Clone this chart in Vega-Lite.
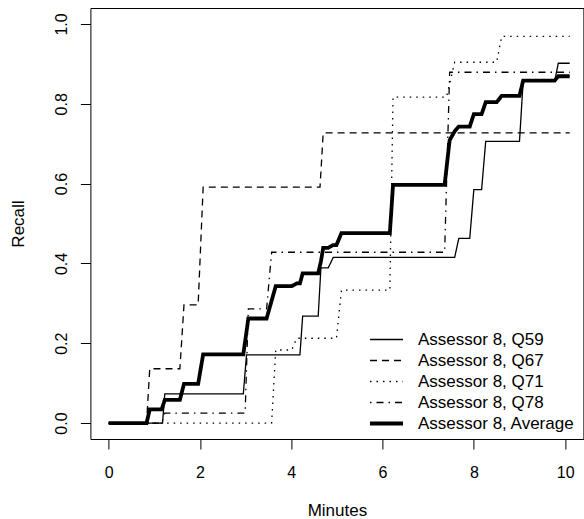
{
  "$schema": "https://vega.github.io/schema/vega-lite/v6.json",
  "width": 493,
  "height": 431,
  "autosize": {"type": "none"},
  "padding": {"left": 90.4, "top": 8, "right": 0.6, "bottom": 80},
  "background": "white",
  "config": {
    "font": "Liberation Sans",
    "view": {"stroke": "black", "strokeWidth": 1},
    "axis": {"domain": false, "grid": false, "tickColor": "black", "tickSize": 10, "tickWidth": 1, "labelColor": "black", "titleColor": "black", "labelFontSize": 16, "titleFontSize": 17, "titleFontWeight": "normal"}
  },
  "data": {"values": [
    {"series": "Assessor 8, Q59", "t": 0, "r": 0},
    {"series": "Assessor 8, Q59", "t": 1.18, "r": 0},
    {"series": "Assessor 8, Q59", "t": 1.23, "r": 0.073},
    {"series": "Assessor 8, Q59", "t": 2.95, "r": 0.073},
    {"series": "Assessor 8, Q59", "t": 3.02, "r": 0.171},
    {"series": "Assessor 8, Q59", "t": 4.19, "r": 0.171},
    {"series": "Assessor 8, Q59", "t": 4.25, "r": 0.268},
    {"series": "Assessor 8, Q59", "t": 4.59, "r": 0.268},
    {"series": "Assessor 8, Q59", "t": 4.65, "r": 0.389},
    {"series": "Assessor 8, Q59", "t": 4.81, "r": 0.389},
    {"series": "Assessor 8, Q59", "t": 4.92, "r": 0.415},
    {"series": "Assessor 8, Q59", "t": 7.58, "r": 0.415},
    {"series": "Assessor 8, Q59", "t": 7.67, "r": 0.4625},
    {"series": "Assessor 8, Q59", "t": 7.91, "r": 0.4625},
    {"series": "Assessor 8, Q59", "t": 8.0, "r": 0.585},
    {"series": "Assessor 8, Q59", "t": 8.17, "r": 0.585},
    {"series": "Assessor 8, Q59", "t": 8.26, "r": 0.706},
    {"series": "Assessor 8, Q59", "t": 9.0, "r": 0.706},
    {"series": "Assessor 8, Q59", "t": 9.08, "r": 0.856},
    {"series": "Assessor 8, Q59", "t": 9.77, "r": 0.856},
    {"series": "Assessor 8, Q59", "t": 9.85, "r": 0.9015},
    {"series": "Assessor 8, Q59", "t": 10.1, "r": 0.9015},

    {"series": "Assessor 8, Q67", "t": 0, "r": 0},
    {"series": "Assessor 8, Q67", "t": 0.83, "r": 0},
    {"series": "Assessor 8, Q67", "t": 0.9, "r": 0.136},
    {"series": "Assessor 8, Q67", "t": 1.56, "r": 0.136},
    {"series": "Assessor 8, Q67", "t": 1.65, "r": 0.296},
    {"series": "Assessor 8, Q67", "t": 1.96, "r": 0.296},
    {"series": "Assessor 8, Q67", "t": 2.07, "r": 0.591},
    {"series": "Assessor 8, Q67", "t": 4.63, "r": 0.591},
    {"series": "Assessor 8, Q67", "t": 4.7, "r": 0.727},
    {"series": "Assessor 8, Q67", "t": 10.1, "r": 0.727},

    {"series": "Assessor 8, Q71", "t": 0, "r": 0},
    {"series": "Assessor 8, Q71", "t": 3.57, "r": 0},
    {"series": "Assessor 8, Q71", "t": 3.66, "r": 0.183},
    {"series": "Assessor 8, Q71", "t": 4.01, "r": 0.183},
    {"series": "Assessor 8, Q71", "t": 4.12, "r": 0.2125},
    {"series": "Assessor 8, Q71", "t": 4.99, "r": 0.2125},
    {"series": "Assessor 8, Q71", "t": 5.1, "r": 0.333},
    {"series": "Assessor 8, Q71", "t": 6.16, "r": 0.333},
    {"series": "Assessor 8, Q71", "t": 6.23, "r": 0.8165},
    {"series": "Assessor 8, Q71", "t": 7.4, "r": 0.8165},
    {"series": "Assessor 8, Q71", "t": 7.58, "r": 0.904},
    {"series": "Assessor 8, Q71", "t": 8.5, "r": 0.904},
    {"series": "Assessor 8, Q71", "t": 8.61, "r": 0.969},
    {"series": "Assessor 8, Q71", "t": 10.1, "r": 0.969},

    {"series": "Assessor 8, Q78", "t": 0, "r": 0},
    {"series": "Assessor 8, Q78", "t": 1.16, "r": 0},
    {"series": "Assessor 8, Q78", "t": 1.23, "r": 0.025},
    {"series": "Assessor 8, Q78", "t": 2.99, "r": 0.025},
    {"series": "Assessor 8, Q78", "t": 3.06, "r": 0.286},
    {"series": "Assessor 8, Q78", "t": 3.46, "r": 0.286},
    {"series": "Assessor 8, Q78", "t": 3.57, "r": 0.428},
    {"series": "Assessor 8, Q78", "t": 7.36, "r": 0.428},
    {"series": "Assessor 8, Q78", "t": 7.47, "r": 0.879},
    {"series": "Assessor 8, Q78", "t": 10.1, "r": 0.879},

    {"series": "Assessor 8, Average", "t": 0, "r": 0},
    {"series": "Assessor 8, Average", "t": 0.83, "r": 0},
    {"series": "Assessor 8, Average", "t": 0.9, "r": 0.034},
    {"series": "Assessor 8, Average", "t": 1.16, "r": 0.034},
    {"series": "Assessor 8, Average", "t": 1.23, "r": 0.058},
    {"series": "Assessor 8, Average", "t": 1.56, "r": 0.058},
    {"series": "Assessor 8, Average", "t": 1.65, "r": 0.098},
    {"series": "Assessor 8, Average", "t": 1.96, "r": 0.098},
    {"series": "Assessor 8, Average", "t": 2.07, "r": 0.172},
    {"series": "Assessor 8, Average", "t": 2.95, "r": 0.172},
    {"series": "Assessor 8, Average", "t": 3.06, "r": 0.262},
    {"series": "Assessor 8, Average", "t": 3.46, "r": 0.262},
    {"series": "Assessor 8, Average", "t": 3.66, "r": 0.343},
    {"series": "Assessor 8, Average", "t": 4.01, "r": 0.343},
    {"series": "Assessor 8, Average", "t": 4.12, "r": 0.35},
    {"series": "Assessor 8, Average", "t": 4.19, "r": 0.35},
    {"series": "Assessor 8, Average", "t": 4.25, "r": 0.375},
    {"series": "Assessor 8, Average", "t": 4.59, "r": 0.375},
    {"series": "Assessor 8, Average", "t": 4.65, "r": 0.405},
    {"series": "Assessor 8, Average", "t": 4.7, "r": 0.439},
    {"series": "Assessor 8, Average", "t": 4.81, "r": 0.439},
    {"series": "Assessor 8, Average", "t": 4.92, "r": 0.446},
    {"series": "Assessor 8, Average", "t": 4.99, "r": 0.446},
    {"series": "Assessor 8, Average", "t": 5.1, "r": 0.476},
    {"series": "Assessor 8, Average", "t": 6.16, "r": 0.476},
    {"series": "Assessor 8, Average", "t": 6.23, "r": 0.597},
    {"series": "Assessor 8, Average", "t": 7.36, "r": 0.597},
    {"series": "Assessor 8, Average", "t": 7.47, "r": 0.709},
    {"series": "Assessor 8, Average", "t": 7.58, "r": 0.731},
    {"series": "Assessor 8, Average", "t": 7.67, "r": 0.743},
    {"series": "Assessor 8, Average", "t": 7.91, "r": 0.743},
    {"series": "Assessor 8, Average", "t": 8.0, "r": 0.774},
    {"series": "Assessor 8, Average", "t": 8.17, "r": 0.774},
    {"series": "Assessor 8, Average", "t": 8.26, "r": 0.804},
    {"series": "Assessor 8, Average", "t": 8.5, "r": 0.804},
    {"series": "Assessor 8, Average", "t": 8.61, "r": 0.82},
    {"series": "Assessor 8, Average", "t": 9.0, "r": 0.82},
    {"series": "Assessor 8, Average", "t": 9.08, "r": 0.858},
    {"series": "Assessor 8, Average", "t": 9.77, "r": 0.858},
    {"series": "Assessor 8, Average", "t": 9.85, "r": 0.869},
    {"series": "Assessor 8, Average", "t": 10.1, "r": 0.869}
  ]},
  "mark": {"type": "line", "color": "black", "strokeCap": "butt", "strokeJoin": "miter"},
  "encoding": {
    "x": {"field": "t", "type": "quantitative",
      "scale": {"domain": [-0.4, 10.4], "nice": false, "zero": false},
      "axis": {"values": [0, 2, 4, 6, 8, 10], "format": "d", "title": "Minutes", "labelPadding": 15, "titlePadding": 22}},
    "y": {"field": "r", "type": "quantitative",
      "scale": {"domain": [-0.04, 1.04], "nice": false, "zero": false},
      "axis": {"values": [0, 0.2, 0.4, 0.6, 0.8, 1.0], "format": ".1f", "title": "Recall", "labelAngle": -90, "labelAlign": "center", "labelBaseline": "bottom", "labelPadding": 11, "titlePadding": 26}},
    "strokeDash": {"field": "series", "type": "nominal",
      "scale": {"domain": ["Assessor 8, Q59", "Assessor 8, Q67", "Assessor 8, Q71", "Assessor 8, Q78", "Assessor 8, Average"],
        "range": [[1, 0], [7, 5], [1.5, 5], [1.5, 5, 7, 5], [1, 0]]},
      "legend": {"title": null, "orient": "none", "legendX": 287.6, "legendY": 323, "padding": 0,
        "symbolType": "stroke", "symbolSize": 1089, "symbolStrokeColor": "black",
        "labelFontSize": 17, "labelColor": "black", "labelOffset": 23, "rowPadding": 3,
        "encode": {"symbols": {"update": {"strokeWidth": {"signal": "datum.value == 'Assessor 8, Average' ? 3.8 : 1.3"}}}}}},
    "strokeWidth": {"condition": {"test": "datum.series == 'Assessor 8, Average'", "value": 3.8}, "value": 1.3}
  }
}
